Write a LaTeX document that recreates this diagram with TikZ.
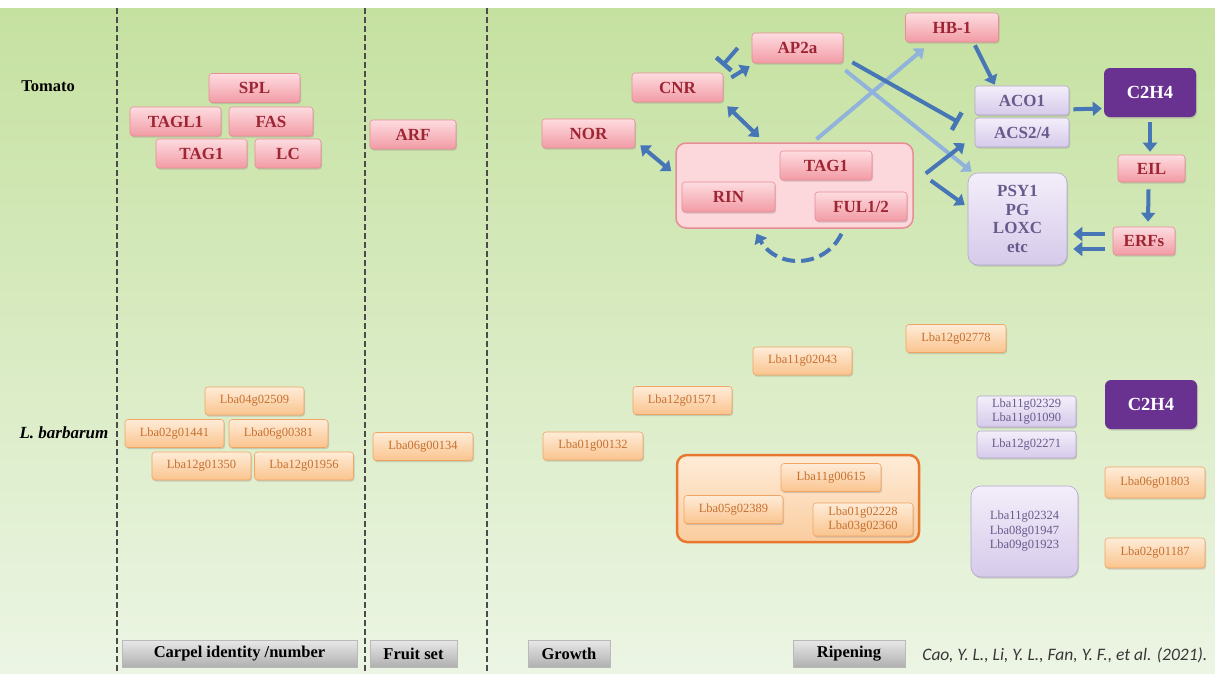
\documentclass[tikz,border=0pt]{standalone}
\usepackage{fontspec}
\setmainfont{Liberation Serif}
\newfontfamily\citefont{Carlito}
\usetikzlibrary{calc,arrows.meta,shadows}

\definecolor{bgtop}{RGB}{197,225,160}
\definecolor{bgbot}{RGB}{236,245,228}
\definecolor{pktop}{RGB}{253,220,224}
\definecolor{pkbot}{RGB}{242,155,165}
\definecolor{pkline}{RGB}{232,140,150}
\definecolor{pktext}{RGB}{158,38,52}
\definecolor{pkgrp}{RGB}{252,216,220}
\definecolor{ortop}{RGB}{254,236,216}
\definecolor{orbot}{RGB}{250,196,142}
\definecolor{orline}{RGB}{240,165,100}
\definecolor{ortext}{RGB}{198,112,48}
\definecolor{orgrp}{RGB}{232,120,45}
\definecolor{putop}{RGB}{243,238,250}
\definecolor{pubot}{RGB}{214,202,234}
\definecolor{puline}{RGB}{180,165,210}
\definecolor{putext}{RGB}{105,90,140}
\definecolor{ethfill}{RGB}{105,50,145}
\definecolor{arrdark}{RGB}{70,118,182}
\definecolor{arrlight}{RGB}{145,178,218}
\definecolor{sepgray}{RGB}{75,75,75}

\begin{document}
\begin{tikzpicture}[x=1pt, y=-1pt,
  tom/.style={rounded corners=3pt, top color=pktop, bottom color=pkbot, draw=pkline, line width=0.6pt,
    text=pktext, font=\fontsize{17}{19}\selectfont\bfseries, minimum width=91pt, minimum height=29pt,
    inner sep=0pt, drop shadow={shadow xshift=1pt, shadow yshift=-1.5pt, opacity=0.3}},
  lba/.style={rounded corners=3pt, top color=ortop, bottom color=orbot, draw=orline, line width=0.6pt,
    text=ortext, font=\fontsize{12.5}{14.5}\selectfont, minimum width=99pt, minimum height=28pt,
    inner sep=0pt, align=center, drop shadow={shadow xshift=1pt, shadow yshift=-1.5pt, opacity=0.3}},
  pur/.style={rounded corners=3pt, top color=putop, bottom color=pubot, draw=puline, line width=0.6pt,
    text=putext, font=\fontsize{17}{18.5}\selectfont\bfseries, minimum width=94pt, minimum height=29pt,
    inner sep=0pt, align=center, drop shadow={shadow xshift=1pt, shadow yshift=-1.5pt, opacity=0.3}},
  pursm/.style={pur, font=\fontsize{12.5}{14.5}\selectfont, minimum width=99pt},
  eth/.style={rounded corners=6pt, fill=ethfill, text=white, font=\fontsize{18.5}{20}\selectfont\bfseries,
    minimum width=92pt, minimum height=49pt, inner sep=0pt,
    drop shadow={shadow xshift=1pt, shadow yshift=-1.5pt, opacity=0.3}},
  stage/.style={top color=gray!18, middle color=gray!32, bottom color=gray!62, draw=gray!55, line width=0.8pt,
    font=\fontsize{16.5}{18}\selectfont\bfseries, minimum height=27pt, inner sep=0pt},
  pgrp/.style={rounded corners=10pt, fill=pkgrp, draw=pkline, line width=1.5pt},
  ogrp/.style={rounded corners=10pt, top color=ortop, bottom color=orbot!85, draw=orgrp, line width=2.5pt},
  divider/.style={draw=sepgray, line width=1.6pt, dash pattern=on 6pt off 3pt},
  act/.style={draw=arrdark, line width=4pt, -{Triangle[length=9pt,width=14pt]}},
  dact/.style={act, {Triangle[length=9pt,width=14pt]}-{Triangle[length=9pt,width=14pt]}},
  lact/.style={act, draw=arrlight},
  inh/.style={draw=arrdark, line width=4pt, -{Bar[width=20pt,line width=4.5pt]}}]

  % Background
  \useasboundingbox (0,0) rectangle (1215,673);
  \fill[white] (0,0) rectangle (1215,673);
  \shade[top color=bgtop, bottom color=bgbot] (0,8) rectangle (1215,673);

  % Stage dividers
  \draw[divider] (117,8) -- (117,673);
  \draw[divider] (365,8) -- (365,673);
  \draw[divider] (487,8) -- (487,673);

  % Row labels
  \node[font=\fontsize{16.5}{18}\selectfont\bfseries] (tomato) at (48,86) {Tomato};
  \node[font=\fontsize{17}{19}\selectfont\bfseries\itshape] (lbar) at (64,433) {L. barbarum};

  % Tomato: carpel identity and fruit set
  \node[tom] (spl) at (254.5,88) {SPL};
  \node[tom] (tagl) at (175.5,121.5) {TAGL1};
  \node[tom, minimum width=84pt] (fas) at (271,121.5) {FAS};
  \node[tom] (tagone) at (201.5,153.5) {TAG1};
  \node[tom, minimum width=66pt] (lc) at (288,153.5) {LC};
  \node[tom, minimum width=86pt] (arf) at (413,134.5) {ARF};

  % Tomato: ripening network
  \node[pgrp, minimum width=237pt, minimum height=85pt] (rgrp) at (794.5,185.5) {};
  \node[tom, minimum width=92pt] (tagtwo) at (826,165.5) {TAG1};
  \node[tom, minimum width=93pt, minimum height=30pt] (rin) at (728.5,197) {RIN};
  \node[tom, minimum width=92pt] (ful) at (861,206.5) {FUL1/2};
  \node[tom, minimum height=30pt] (ap2a) at (797.5,48) {AP2a};
  \node[tom] (cnr) at (677.5,87.5) {CNR};
  \node[tom, minimum width=93pt] (nor) at (588.5,133.5) {NOR};
  \node[tom, minimum width=93pt] (hbone) at (952,27.5) {HB-1};
  \node[pur] (aco) at (1022,100.5) {ACO1};
  \node[pur] (acs) at (1022,132.5) {ACS2/4};
  \node[pur, rounded corners=10pt, minimum width=99pt, minimum height=92pt] (psy) at (1017.5,219)
    {PSY1\\PG\\LOXC\\etc};
  \node[eth] (eth) at (1150,92.5) {C2H4};
  \node[tom, minimum width=67pt, minimum height=27pt] (eil) at (1151.5,168.5) {EIL};
  \node[tom, minimum width=62pt, minimum height=28pt] (erf) at (1144,241) {ERFs};

  % Interactions
  \draw[dact] ($(nor.south east)+(5,-3)$) -- ($(rgrp.north west)+(-4,29)$);
  \draw[dact] ($(cnr.south east)+(4,4)$) -- ($(rgrp.north west)+(84,-5)$);
  \draw[act] ($(cnr.east)+(8,-10)$) -- ($(ap2a.south west)+(-2,3)$);
  \draw[inh] ($(ap2a.west)+(-14,0)$) -- ($(cnr.north east)+(-1,-7)$);
  \draw[lact] ($(rgrp.north)+(22,-3)$) -- ($(hbone.south west)+(19,6)$);
  \draw[lact] ($(ap2a.south east)+(2,7)$) -- ($(psy.north west)+(4,-1)$);
  \draw[inh] ($(ap2a.south east)+(9,-1)$) -- ($(aco.south west)+(-16,7)$);
  \draw[act] ($(rgrp.east)+(12,-12)$) -- ($(acs.south west)+(-10,-4)$);
  \draw[act] ($(rgrp.east)+(17,-5)$) -- ($(psy.west)+(-3,-14)$);
  \draw[act] ($(hbone.south)+(23,3)$) -- ($(aco.north west)+(20,-1)$);
  \draw[act] ($(aco.south east)+(4,-6)$) -- ($(eth.west)+(-2,16)$);
  \draw[act] ($(eth.south)+(0,5)$) -- ($(eil.north)+(-1.5,-3)$);
  \draw[act] ($(eil.south)+(-3,7)$) -- ($(erf.north)+(4,-5)$);
  \draw[act] ($(erf.west)+(-8,-7)$) -- ($(psy.east)+(6,15)$);
  \draw[act] ($(erf.west)+(-8,8)$) -- ($(psy.east)+(6,30)$);
  \draw[act, dash pattern=on 13pt off 6pt] ($(rgrp.south)+(47,5)$)
    .. controls ($(rgrp.south)+(30,40)$) and ($(rgrp.south)+(-18,40)$) .. ($(rgrp.south)+(-38,5)$);

  % L. barbarum: carpel identity and fruit set
  \node[lba] (lone) at (254.5,401) {Lba04g02509};
  \node[lba] (ltwo) at (174.5,433.5) {Lba02g01441};
  \node[lba] (lthree) at (278.5,433.5) {Lba06g00381};
  \node[lba] (lfour) at (201.5,466) {Lba12g01350};
  \node[lba] (lfive) at (304,466) {Lba12g01956};
  \node[lba, minimum width=100pt] (lsix) at (423,446.5) {Lba06g00134};

  % L. barbarum: growth and ripening
  \node[lba, minimum width=100pt] (gone) at (593,446) {Lba01g00132};
  \node[lba] (gtwo) at (682.5,400.5) {Lba12g01571};
  \node[lba] (gthree) at (802.5,361) {Lba11g02043};
  \node[lba, minimum width=100pt] (gfour) at (956,338.5) {Lba12g02778};
  \node[ogrp, minimum width=242pt, minimum height=87pt] (ogrp) at (798,498.5) {};
  \node[lba, minimum width=100pt] (gfive) at (831,477.5) {Lba11g00615};
  \node[lba] (gsix) at (733.5,509.5) {Lba05g02389};
  \node[lba, minimum width=100pt, minimum height=33pt] (gseven) at (863,519.5) {Lba01g02228\\Lba03g02360};
  \node[pursm, minimum height=31pt] (pone) at (1026.5,411.5) {Lba11g02329\\Lba11g01090};
  \node[pursm, minimum height=27pt] (ptwo) at (1026.5,444.5) {Lba12g02271};
  \node[pursm, rounded corners=10pt, minimum width=107pt, minimum height=91pt] (pthree) at (1024.5,531.5)
    {Lba11g02324\\Lba08g01947\\Lba09g01923};
  \node[eth] (ethtwo) at (1151,404.5) {C2H4};
  \node[lba, minimum width=100pt, minimum height=31pt] (oone) at (1155,482.5) {Lba06g01803};
  \node[lba, minimum width=100pt, minimum height=30pt] (otwo) at (1155,553) {Lba02g01187};

  % Stages
  \node[stage, minimum width=235pt] (carpel) at (239.5,653.5) {Carpel identity /number};
  \node[stage, minimum width=87pt] (fruit) at (413.5,653.5) {Fruit set};
  \node[stage, minimum width=82pt] (growth) at (569,653.5) {Growth};
  \node[stage, minimum width=112pt] (ripen) at (849,653.5) {Ripening};
  \node[anchor=east, text=black!78, font=\citefont\fontsize{17.5}{19}\selectfont\itshape] (cite) at (1211,655)
    {Cao, Y. L., Li, Y. L., Fan, Y. F., et al. (2021).};
\end{tikzpicture}
\end{document}
